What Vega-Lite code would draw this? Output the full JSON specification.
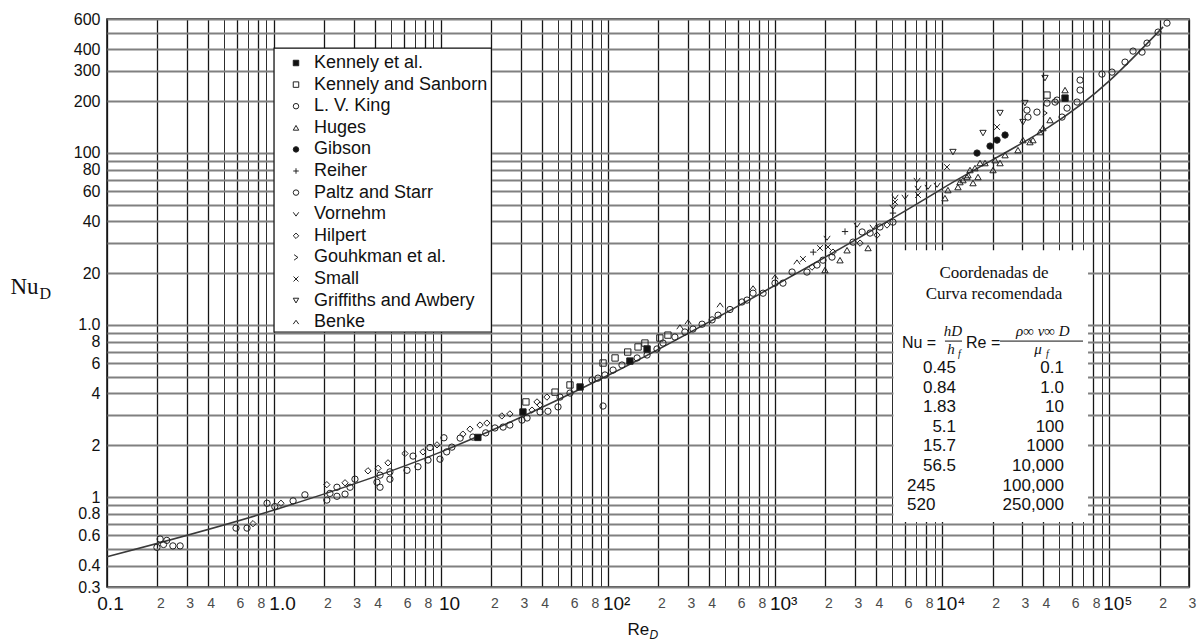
{
  "$schema": "https://vega.github.io/schema/vega-lite/v6.json",
  "width": 1082,
  "height": 568,
  "autosize": {"type": "none"},
  "padding": {"left": 107, "top": 19, "right": 10, "bottom": 54},
  "background": "white",
  "config": {"view": {"stroke": "#111", "strokeWidth": 1.5}, "font": "Liberation Sans"},
  "datasets": {
    "curve": [
      {"Re": 0.1, "Nu": 0.45}, {"Re": 1, "Nu": 0.84}, {"Re": 10, "Nu": 1.83}, {"Re": 100, "Nu": 5.1},
      {"Re": 1000, "Nu": 17}, {"Re": 10000, "Nu": 62}, {"Re": 100000, "Nu": 262}, {"Re": 210000, "Nu": 540}
    ],
    "pts": [
      {"Source": "L. V. King", "Re": 0.199, "Nu": 0.51},
      {"Source": "L. V. King", "Re": 0.208, "Nu": 0.57},
      {"Source": "Paltz and Starr", "Re": 0.218, "Nu": 0.53},
      {"Source": "L. V. King", "Re": 0.228, "Nu": 0.56},
      {"Source": "L. V. King", "Re": 0.248, "Nu": 0.52},
      {"Source": "Paltz and Starr", "Re": 0.274, "Nu": 0.52},
      {"Source": "L. V. King", "Re": 0.592, "Nu": 0.66},
      {"Source": "L. V. King", "Re": 0.689, "Nu": 0.66},
      {"Source": "Hilpert", "Re": 0.748, "Nu": 0.70},
      {"Source": "L. V. King", "Re": 0.908, "Nu": 0.92},
      {"Source": "L. V. King", "Re": 1.01, "Nu": 0.88},
      {"Source": "Hilpert", "Re": 1.10, "Nu": 0.92},
      {"Source": "L. V. King", "Re": 1.30, "Nu": 0.95},
      {"Source": "Paltz and Starr", "Re": 1.53, "Nu": 1.03},
      {"Source": "Hilpert", "Re": 2.07, "Nu": 1.18},
      {"Source": "L. V. King", "Re": 2.07, "Nu": 0.96},
      {"Source": "L. V. King", "Re": 2.16, "Nu": 1.05},
      {"Source": "L. V. King", "Re": 2.38, "Nu": 1.14},
      {"Source": "Paltz and Starr", "Re": 2.38, "Nu": 1.01},
      {"Source": "Hilpert", "Re": 2.66, "Nu": 1.21},
      {"Source": "L. V. King", "Re": 2.66, "Nu": 1.04},
      {"Source": "L. V. King", "Re": 2.85, "Nu": 1.14},
      {"Source": "L. V. King", "Re": 3.05, "Nu": 1.27},
      {"Source": "Hilpert", "Re": 3.65, "Nu": 1.42},
      {"Source": "L. V. King", "Re": 4.13, "Nu": 1.22},
      {"Source": "Hilpert", "Re": 4.2, "Nu": 1.47},
      {"Source": "L. V. King", "Re": 4.31, "Nu": 1.34},
      {"Source": "L. V. King", "Re": 4.31, "Nu": 1.14},
      {"Source": "Hilpert", "Re": 4.81, "Nu": 1.58},
      {"Source": "L. V. King", "Re": 4.94, "Nu": 1.40},
      {"Source": "Paltz and Starr", "Re": 4.94, "Nu": 1.27},
      {"Source": "Hilpert", "Re": 6.08, "Nu": 1.79},
      {"Source": "L. V. King", "Re": 6.25, "Nu": 1.43},
      {"Source": "L. V. King", "Re": 6.79, "Nu": 1.73},
      {"Source": "L. V. King", "Re": 7.27, "Nu": 1.50},
      {"Source": "Hilpert", "Re": 7.79, "Nu": 1.83},
      {"Source": "L. V. King", "Re": 8.35, "Nu": 1.64},
      {"Source": "L. V. King", "Re": 8.58, "Nu": 1.94},
      {"Source": "Hilpert", "Re": 9.45, "Nu": 2.01},
      {"Source": "L. V. King", "Re": 9.85, "Nu": 1.66},
      {"Source": "L. V. King", "Re": 10.4, "Nu": 2.21},
      {"Source": "Paltz and Starr", "Re": 10.8, "Nu": 1.83},
      {"Source": "L. V. King", "Re": 11.6, "Nu": 1.95},
      {"Source": "L. V. King", "Re": 13.0, "Nu": 2.20},
      {"Source": "Hilpert", "Re": 13.5, "Nu": 2.32},
      {"Source": "Hilpert", "Re": 14.9, "Nu": 2.48},
      {"Source": "L. V. King", "Re": 15.5, "Nu": 2.23},
      {"Source": "Kennely et al.", "Re": 16.6, "Nu": 2.22},
      {"Source": "Hilpert", "Re": 17.1, "Nu": 2.62},
      {"Source": "Hilpert", "Re": 18.8, "Nu": 2.69},
      {"Source": "L. V. King", "Re": 18.5, "Nu": 2.36},
      {"Source": "L. V. King", "Re": 21.0, "Nu": 2.52},
      {"Source": "Hilpert", "Re": 23.1, "Nu": 2.96},
      {"Source": "Hilpert", "Re": 25.8, "Nu": 3.04},
      {"Source": "L. V. King", "Re": 23.5, "Nu": 2.55},
      {"Source": "Paltz and Starr", "Re": 25.8, "Nu": 2.62},
      {"Source": "Kennely et al.", "Re": 30.9, "Nu": 3.12},
      {"Source": "Kennely and Sanborn", "Re": 32.2, "Nu": 3.57},
      {"Source": "L. V. King", "Re": 30.5, "Nu": 2.80},
      {"Source": "L. V. King", "Re": 32.7, "Nu": 2.88},
      {"Source": "Hilpert", "Re": 35.0, "Nu": 3.2},
      {"Source": "Hilpert", "Re": 37.5, "Nu": 3.57},
      {"Source": "Hilpert", "Re": 39.1, "Nu": 3.43},
      {"Source": "Hilpert", "Re": 43.0, "Nu": 3.81},
      {"Source": "L. V. King", "Re": 39.1, "Nu": 3.12},
      {"Source": "L. V. King", "Re": 43.6, "Nu": 3.15},
      {"Source": "L. V. King", "Re": 50.1, "Nu": 3.34},
      {"Source": "Kennely and Sanborn", "Re": 48.1, "Nu": 4.07},
      {"Source": "L. V. King", "Re": 51.5, "Nu": 3.81},
      {"Source": "Kennely and Sanborn", "Re": 59.1, "Nu": 4.48},
      {"Source": "L. V. King", "Re": 59.1, "Nu": 4.02},
      {"Source": "Kennely et al.", "Re": 67.9, "Nu": 4.36},
      {"Source": "L. V. King", "Re": 80.1, "Nu": 4.79},
      {"Source": "L. V. King", "Re": 86.9, "Nu": 4.91},
      {"Source": "Kennely and Sanborn", "Re": 93.2, "Nu": 6.01},
      {"Source": "L. V. King", "Re": 93.2, "Nu": 3.38},
      {"Source": "L. V. King", "Re": 95.7, "Nu": 5.12},
      {"Source": "L. V. King", "Re": 107, "Nu": 5.47},
      {"Source": "Kennely and Sanborn", "Re": 110, "Nu": 6.43},
      {"Source": "L. V. King", "Re": 121, "Nu": 5.85},
      {"Source": "Kennely and Sanborn", "Re": 131, "Nu": 6.96},
      {"Source": "Kennely et al.", "Re": 135, "Nu": 6.17},
      {"Source": "L. V. King", "Re": 149, "Nu": 6.43},
      {"Source": "Kennely and Sanborn", "Re": 151, "Nu": 7.45},
      {"Source": "Kennely and Sanborn", "Re": 166, "Nu": 7.85},
      {"Source": "L. V. King", "Re": 171, "Nu": 6.69},
      {"Source": "Kennely et al.", "Re": 171, "Nu": 7.25},
      {"Source": "L. V. King", "Re": 196, "Nu": 7.25},
      {"Source": "Kennely and Sanborn", "Re": 204, "Nu": 8.4},
      {"Source": "L. V. King", "Re": 213, "Nu": 7.85},
      {"Source": "Kennely and Sanborn", "Re": 228, "Nu": 8.73},
      {"Source": "L. V. King", "Re": 251, "Nu": 8.51},
      {"Source": "Benke", "Re": 269, "Nu": 9.73},
      {"Source": "L. V. King", "Re": 288, "Nu": 9.1},
      {"Source": "Benke", "Re": 301, "Nu": 10.4},
      {"Source": "L. V. King", "Re": 322, "Nu": 9.47},
      {"Source": "L. V. King", "Re": 365, "Nu": 10.1},
      {"Source": "L. V. King", "Re": 419, "Nu": 10.7},
      {"Source": "L. V. King", "Re": 455, "Nu": 11.4},
      {"Source": "Benke", "Re": 468, "Nu": 13.05},
      {"Source": "L. V. King", "Re": 536, "Nu": 12.3},
      {"Source": "L. V. King", "Re": 633, "Nu": 13.6},
      {"Source": "L. V. King", "Re": 678, "Nu": 13.95},
      {"Source": "Benke", "Re": 737, "Nu": 16.4},
      {"Source": "L. V. King", "Re": 737, "Nu": 15.3},
      {"Source": "L. V. King", "Re": 846, "Nu": 15.3},
      {"Source": "Benke", "Re": 997, "Nu": 19.0},
      {"Source": "L. V. King", "Re": 997, "Nu": 17.5},
      {"Source": "L. V. King", "Re": 1113, "Nu": 17.5},
      {"Source": "L. V. King", "Re": 1262, "Nu": 20.3},
      {"Source": "Benke", "Re": 1350, "Nu": 23.2},
      {"Source": "Small", "Re": 1466, "Nu": 24.2},
      {"Source": "L. V. King", "Re": 1549, "Nu": 20.3},
      {"Source": "Hilpert", "Re": 1660, "Nu": 21.7},
      {"Source": "Reiher", "Re": 1690, "Nu": 26.5},
      {"Source": "L. V. King", "Re": 1779, "Nu": 22.3},
      {"Source": "Small", "Re": 1854, "Nu": 28.0},
      {"Source": "L. V. King", "Re": 1932, "Nu": 23.8},
      {"Source": "Huges", "Re": 1986, "Nu": 20.85},
      {"Source": "Vornehm", "Re": 2042, "Nu": 32.0},
      {"Source": "Small", "Re": 2070, "Nu": 28.4},
      {"Source": "L. V. King", "Re": 2188, "Nu": 24.8},
      {"Source": "Hilpert", "Re": 2218, "Nu": 26.5},
      {"Source": "Huges", "Re": 2443, "Nu": 23.8},
      {"Source": "Reiher", "Re": 2618, "Nu": 34.9},
      {"Source": "Huges", "Re": 2692, "Nu": 27.2},
      {"Source": "L. V. King", "Re": 2924, "Nu": 30.3},
      {"Source": "Vornehm", "Re": 3091, "Nu": 38.1},
      {"Source": "Hilpert", "Re": 3222, "Nu": 29.9},
      {"Source": "L. V. King", "Re": 3313, "Nu": 34.7},
      {"Source": "Huges", "Re": 3597, "Nu": 28.0},
      {"Source": "L. V. King", "Re": 3698, "Nu": 34.2},
      {"Source": "Vornehm", "Re": 3855, "Nu": 37.1},
      {"Source": "Hilpert", "Re": 4067, "Nu": 33.3},
      {"Source": "L. V. King", "Re": 4238, "Nu": 37.1},
      {"Source": "Hilpert", "Re": 4669, "Nu": 38.1},
      {"Source": "L. V. King", "Re": 5070, "Nu": 39.6},
      {"Source": "Vornehm", "Re": 5213, "Nu": 55.4},
      {"Source": "Small", "Re": 5213, "Nu": 51.8},
      {"Source": "Vornehm", "Re": 5070, "Nu": 48.4},
      {"Source": "Reiher", "Re": 5070, "Nu": 44.7},
      {"Source": "Vornehm", "Re": 5985, "Nu": 55.4},
      {"Source": "Vornehm", "Re": 7063, "Nu": 69.5},
      {"Source": "Vornehm", "Re": 7161, "Nu": 62.5},
      {"Source": "Small", "Re": 7161, "Nu": 56.9},
      {"Source": "Vornehm", "Re": 8222, "Nu": 63.3},
      {"Source": "Vornehm", "Re": 9313, "Nu": 65.0},
      {"Source": "Huges", "Re": 10380, "Nu": 54.6},
      {"Source": "Small", "Re": 10670, "Nu": 82.7},
      {"Source": "Huges", "Re": 10820, "Nu": 60.8},
      {"Source": "Griffiths and Awbery", "Re": 11590, "Nu": 101.1},
      {"Source": "Huges", "Re": 12420, "Nu": 63.3},
      {"Source": "Huges", "Re": 12770, "Nu": 67.7},
      {"Source": "Huges", "Re": 13310, "Nu": 69.5},
      {"Source": "Huges", "Re": 14060, "Nu": 72.4},
      {"Source": "Huges", "Re": 14260, "Nu": 74.3},
      {"Source": "Huges", "Re": 14660, "Nu": 79.5},
      {"Source": "Huges", "Re": 15280, "Nu": 66.8},
      {"Source": "Huges", "Re": 15700, "Nu": 81.6},
      {"Source": "Huges", "Re": 16370, "Nu": 72.4},
      {"Source": "Huges", "Re": 16830, "Nu": 87.3},
      {"Source": "Huges", "Re": 18030, "Nu": 87.3},
      {"Source": "Gibson", "Re": 16150, "Nu": 99.8},
      {"Source": "Griffiths and Awbery", "Re": 17540, "Nu": 130.4},
      {"Source": "Gibson", "Re": 19320, "Nu": 109.6},
      {"Source": "Small", "Re": 21280, "Nu": 141.3},
      {"Source": "Gibson", "Re": 21280, "Nu": 118.7},
      {"Source": "Gibson", "Re": 23770, "Nu": 127.0},
      {"Source": "Huges", "Re": 20140, "Nu": 79.5},
      {"Source": "Huges", "Re": 20700, "Nu": 90.8},
      {"Source": "Huges", "Re": 22180, "Nu": 87.3},
      {"Source": "Huges", "Re": 23770, "Nu": 97.1},
      {"Source": "Griffiths and Awbery", "Re": 22180, "Nu": 170.4},
      {"Source": "Huges", "Re": 28400, "Nu": 103.8},
      {"Source": "Huges", "Re": 30420, "Nu": 118.7},
      {"Source": "Huges", "Re": 33500, "Nu": 115.6},
      {"Source": "Huges", "Re": 34920, "Nu": 118.7},
      {"Source": "Griffiths and Awbery", "Re": 30420, "Nu": 151.0},
      {"Source": "Griffiths and Awbery", "Re": 31270, "Nu": 194.7},
      {"Source": "L. V. King", "Re": 32150, "Nu": 177.3},
      {"Source": "L. V. King", "Re": 32600, "Nu": 161.5},
      {"Source": "L. V. King", "Re": 36900, "Nu": 172.6},
      {"Source": "Huges", "Re": 38460, "Nu": 132.1},
      {"Source": "Huges", "Re": 40090, "Nu": 139.4},
      {"Source": "Gouhkman et al.", "Re": 41210, "Nu": 170.4},
      {"Source": "L. V. King", "Re": 42370, "Nu": 194.7},
      {"Source": "Kennely and Sanborn", "Re": 42370, "Nu": 216.8},
      {"Source": "Griffiths and Awbery", "Re": 41210, "Nu": 272.1},
      {"Source": "Huges", "Re": 44160, "Nu": 155.2},
      {"Source": "L. V. King", "Re": 47320, "Nu": 197.4},
      {"Source": "L. V. King", "Re": 48650, "Nu": 202.7},
      {"Source": "Huges", "Re": 54330, "Nu": 231.8},
      {"Source": "Kennely et al.", "Re": 54330, "Nu": 208.2},
      {"Source": "L. V. King", "Re": 52130, "Nu": 161.5},
      {"Source": "L. V. King", "Re": 55850, "Nu": 182.1},
      {"Source": "L. V. King", "Re": 66840, "Nu": 264.9},
      {"Source": "L. V. King", "Re": 66840, "Nu": 231.8},
      {"Source": "L. V. King", "Re": 64120, "Nu": 197.4},
      {"Source": "L. V. King", "Re": 90410, "Nu": 287.1},
      {"Source": "L. V. King", "Re": 103800, "Nu": 294.8},
      {"Source": "L. V. King", "Re": 124200, "Nu": 337.0},
      {"Source": "L. V. King", "Re": 138700, "Nu": 390.5},
      {"Source": "L. V. King", "Re": 157000, "Nu": 385.3},
      {"Source": "L. V. King", "Re": 168200, "Nu": 434.6},
      {"Source": "L. V. King", "Re": 195900, "Nu": 503.5},
      {"Source": "L. V. King", "Re": 221500, "Nu": 568.0}
    ]
  },
  "layer": [
    {
      "data": {"values": [{}]},
      "mark": {"type": "rect", "fill": "white", "stroke": "#111", "strokeWidth": 1.2},
      "encoding": {
        "x": {"datum": 1, "type": "quantitative", "scale": {"type": "log", "domain": [0.1, 300000], "nice": false}, "axis": null},
        "x2": {"datum": 20},
        "y": {"datum": 9.1, "type": "quantitative", "scale": {"type": "log", "domain": [0.3, 600], "nice": false}, "axis": null},
        "y2": {"datum": 406}
      }
    },
    {
      "data": {"values": [{}]},
      "mark": {"type": "rect", "fill": "white", "strokeWidth": 0},
      "encoding": {
        "x": {"datum": 5100, "type": "quantitative", "scale": {"type": "log", "domain": [0.1, 300000], "nice": false}, "axis": null},
        "x2": {"datum": 74600},
        "y": {"datum": 0.716, "type": "quantitative", "scale": {"type": "log", "domain": [0.3, 600], "nice": false}, "axis": null},
        "y2": {"datum": 27.2}
      }
    },
    {
      "data": {"values": [{}]},
      "mark": {"type": "text", "font": "Liberation Serif", "fontSize": 17, "align": "center", "baseline": "alphabetic", "lineHeight": 21, "color": "#111"},
      "encoding": {
        "x": {"datum": 20400, "type": "quantitative", "scale": {"type": "log", "domain": [0.1, 300000], "nice": false}, "axis": null},
        "y": {"datum": 18.7, "type": "quantitative", "scale": {"type": "log", "domain": [0.3, 600], "nice": false}, "axis": null},
        "text": {"value": ["Coordenadas de", "Curva recomendada"]}
      }
    },
    {
      "data": {"values": [{}]},
      "mark": {"type": "text", "font": "Liberation Sans", "fontSize": 16, "align": "left", "baseline": "alphabetic", "color": "#111"},
      "encoding": {
        "x": {"datum": 5740, "type": "quantitative", "scale": {"type": "log", "domain": [0.1, 300000], "nice": false}, "axis": null},
        "y": {"datum": 7.34, "type": "quantitative", "scale": {"type": "log", "domain": [0.3, 600], "nice": false}, "axis": null},
        "text": {"value": "Nu ="}
      }
    },
    {
      "data": {"values": [{}]},
      "mark": {"type": "text", "font": "Liberation Sans", "fontSize": 16, "align": "left", "baseline": "alphabetic", "color": "#111"},
      "encoding": {
        "x": {"datum": 13870, "type": "quantitative", "scale": {"type": "log", "domain": [0.1, 300000], "nice": false}, "axis": null},
        "y": {"datum": 7.34, "type": "quantitative", "scale": {"type": "log", "domain": [0.3, 600], "nice": false}, "axis": null},
        "text": {"value": "Re ="}
      }
    },
    {
      "data": {"values": [{}]},
      "mark": {"type": "text", "font": "Liberation Serif", "fontSize": 15, "fontStyle": "italic", "align": "center", "baseline": "alphabetic", "color": "#111"},
      "encoding": {
        "x": {"datum": 11590, "type": "quantitative", "scale": {"type": "log", "domain": [0.1, 300000], "nice": false}, "axis": null},
        "y": {"datum": 8.62, "type": "quantitative", "scale": {"type": "log", "domain": [0.3, 600], "nice": false}, "axis": null},
        "text": {"value": "hD"}
      }
    },
    {
      "data": {"values": [{}]},
      "mark": {"type": "text", "font": "Liberation Serif", "fontSize": 15, "fontStyle": "italic", "align": "center", "baseline": "alphabetic", "color": "#111"},
      "encoding": {
        "x": {"datum": 11280, "type": "quantitative", "scale": {"type": "log", "domain": [0.1, 300000], "nice": false}, "axis": null},
        "y": {"datum": 6.78, "type": "quantitative", "scale": {"type": "log", "domain": [0.3, 600], "nice": false}, "axis": null},
        "text": {"value": "h"}
      }
    },
    {
      "data": {"values": [{}]},
      "mark": {"type": "text", "font": "Liberation Serif", "fontSize": 10, "fontStyle": "italic", "align": "left", "baseline": "alphabetic", "color": "#111"},
      "encoding": {
        "x": {"datum": 12420, "type": "quantitative", "scale": {"type": "log", "domain": [0.1, 300000], "nice": false}, "axis": null},
        "y": {"datum": 6.51, "type": "quantitative", "scale": {"type": "log", "domain": [0.3, 600], "nice": false}, "axis": null},
        "text": {"value": "f"}
      }
    },
    {
      "data": {"values": [{}]},
      "mark": {"type": "text", "font": "Liberation Serif", "fontSize": 15, "fontStyle": "italic", "align": "center", "baseline": "alphabetic", "color": "#111"},
      "encoding": {
        "x": {"datum": 40000, "type": "quantitative", "scale": {"type": "log", "domain": [0.1, 300000], "nice": false}, "axis": null},
        "y": {"datum": 8.62, "type": "quantitative", "scale": {"type": "log", "domain": [0.3, 600], "nice": false}, "axis": null},
        "text": {"value": "ρ∞ v∞ D"}
      }
    },
    {
      "data": {"values": [{}]},
      "mark": {"type": "text", "font": "Liberation Serif", "fontSize": 15, "fontStyle": "italic", "align": "center", "baseline": "alphabetic", "color": "#111"},
      "encoding": {
        "x": {"datum": 37400, "type": "quantitative", "scale": {"type": "log", "domain": [0.1, 300000], "nice": false}, "axis": null},
        "y": {"datum": 6.78, "type": "quantitative", "scale": {"type": "log", "domain": [0.3, 600], "nice": false}, "axis": null},
        "text": {"value": "μ"}
      }
    },
    {
      "data": {"values": [{}]},
      "mark": {"type": "text", "font": "Liberation Serif", "fontSize": 10, "fontStyle": "italic", "align": "left", "baseline": "alphabetic", "color": "#111"},
      "encoding": {
        "x": {"datum": 41800, "type": "quantitative", "scale": {"type": "log", "domain": [0.1, 300000], "nice": false}, "axis": null},
        "y": {"datum": 6.51, "type": "quantitative", "scale": {"type": "log", "domain": [0.3, 600], "nice": false}, "axis": null},
        "text": {"value": "f"}
      }
    },
    {
      "data": {"values": [{}]},
      "mark": {"type": "rule", "stroke": "#111", "strokeWidth": 1},
      "encoding": {
        "x": {"datum": 10380, "type": "quantitative", "scale": {"type": "log", "domain": [0.1, 300000], "nice": false}, "axis": null},
        "x2": {"datum": 13130},
        "y": {"datum": 8.06, "type": "quantitative", "scale": {"type": "log", "domain": [0.3, 600], "nice": false}, "axis": null}
      }
    },
    {
      "data": {"values": [{}]},
      "mark": {"type": "rule", "stroke": "#111", "strokeWidth": 1},
      "encoding": {
        "x": {"datum": 22180, "type": "quantitative", "scale": {"type": "log", "domain": [0.1, 300000], "nice": false}, "axis": null},
        "x2": {"datum": 69600},
        "y": {"datum": 8.06, "type": "quantitative", "scale": {"type": "log", "domain": [0.3, 600], "nice": false}, "axis": null}
      }
    },
    {
      "data": {"values": [{}]},
      "mark": {"type": "text", "font": "Liberation Sans", "fontSize": 17, "align": "right", "baseline": "alphabetic", "lineHeight": 19.6, "color": "#111"},
      "encoding": {
        "x": {"datum": 12090, "type": "quantitative", "scale": {"type": "log", "domain": [0.1, 300000], "nice": false}, "axis": null},
        "y": {"datum": 5.26, "type": "quantitative", "scale": {"type": "log", "domain": [0.3, 600], "nice": false}, "axis": null},
        "text": {"value": ["0.45", "0.84", "1.83", "5.1", "15.7", "56.5"]}
      }
    },
    {
      "data": {"values": [{}]},
      "mark": {"type": "text", "font": "Liberation Sans", "fontSize": 17, "align": "left", "baseline": "alphabetic", "lineHeight": 19.6, "color": "#111"},
      "encoding": {
        "x": {"datum": 6150, "type": "quantitative", "scale": {"type": "log", "domain": [0.1, 300000], "nice": false}, "axis": null},
        "y": {"datum": 1.09, "type": "quantitative", "scale": {"type": "log", "domain": [0.3, 600], "nice": false}, "axis": null},
        "text": {"value": ["245", "520"]}
      }
    },
    {
      "data": {"values": [{}]},
      "mark": {"type": "text", "font": "Liberation Sans", "fontSize": 17, "align": "right", "baseline": "alphabetic", "lineHeight": 19.6, "color": "#111"},
      "encoding": {
        "x": {"datum": 53560, "type": "quantitative", "scale": {"type": "log", "domain": [0.1, 300000], "nice": false}, "axis": null},
        "y": {"datum": 5.26, "type": "quantitative", "scale": {"type": "log", "domain": [0.3, 600], "nice": false}, "axis": null},
        "text": {"value": ["0.1", "1.0", "10", "100", "1000", "10,000", "100,000", "250,000"]}
      }
    },
    {
      "data": {"name": "curve"},
      "mark": {"type": "line", "interpolate": "monotone", "stroke": "#3a3a3a", "strokeWidth": 1.6},
      "encoding": {
        "x": {"field": "Re", "type": "quantitative", "scale": {"type": "log", "domain": [0.1, 300000], "nice": false},
          "axis": {"orient": "bottom",
            "values": [0.1, 0.2, 0.3, 0.4, 0.5, 0.6, 0.7, 0.8, 0.9, 1, 2, 3, 4, 5, 6, 7, 8, 9, 10, 20, 30, 40, 50, 60, 70, 80, 90, 100, 200, 300, 400, 500, 600, 700, 800, 900, 1000, 2000, 3000, 4000, 5000, 6000, 7000, 8000, 9000, 10000, 20000, 30000, 40000, 50000, 60000, 70000, 80000, 90000, 100000, 200000, 300000],
            "grid": true, "gridColor": "#151515", "gridOpacity": 1,
            "gridWidth": {"condition": {"test": "indexof([0.5,0.7,0.9,5,7,9,50,70,90,500,700,900,5000,7000,9000,50000,70000,90000],datum.value)>=0", "value": 0.9}, "value": 1.3},
            "labels": false, "ticks": false, "domain": false,
            "title": "D", "titleFont": "Liberation Sans", "titleFontSize": 12, "titleFontStyle": "italic", "titleFontWeight": "normal", "titleAlign": "left", "titleBaseline": "alphabetic", "titleX": 542, "titleY": 51, "titleColor": "#111"}},
        "y": {"field": "Nu", "type": "quantitative", "scale": {"type": "log", "domain": [0.3, 600], "nice": false},
          "axis": {"orient": "left",
            "values": [0.3, 0.4, 0.5, 0.6, 0.7, 0.8, 0.9, 1, 2, 3, 4, 5, 6, 7, 8, 9, 10, 20, 30, 40, 50, 60, 70, 80, 90, 100, 200, 300, 400, 500, 600],
            "grid": true, "gridColor": "#808080", "gridWidth": 1.8, "gridOpacity": 1,
            "labels": false, "ticks": false, "domain": false,
            "title": "D", "titleFont": "Liberation Serif", "titleFontSize": 16, "titleFontWeight": "normal", "titleAngle": 0, "titleAlign": "left", "titleBaseline": "alphabetic", "titleX": -68, "titleY": 279, "titleColor": "#111"}}
      }
    },
    {
      "data": {"name": "pts"},
      "mark": {"type": "point", "size": 40, "strokeWidth": 1, "opacity": 1},
      "encoding": {
        "x": {"field": "Re", "type": "quantitative", "scale": {"type": "log", "domain": [0.1, 300000], "nice": false},
          "axis": {
            "orient": "bottom",
            "values": [0.1, 0.2, 0.3, 0.4, 0.6, 0.8, 1, 2, 3, 4, 6, 8, 10, 20, 30, 40, 60, 80, 100, 200, 300, 400, 600, 800, 1000, 2000, 3000, 4000, 6000, 8000, 10000, 20000, 30000, 40000, 60000, 80000, 100000, 200000, 300000],
            "grid": false, "domain": false, "ticks": false, "tickSize": 0,
            "labelExpr": "datum.value==0.1?'0.1':datum.value==1?'1.0':datum.value==10?'10':datum.value==100?'10²':datum.value==1000?'10³':datum.value==10000?'10⁴':datum.value==100000?'10⁵':''+round(datum.value/pow(10,floor(log(datum.value)/LN10+0.000001)))",
            "labelFont": "Liberation Sans",
            "labelFontSize": {"condition": {"test": "indexof([0.1,1,10,100,1000,10000,100000],datum.value)>=0", "value": 19}, "value": 14},
            "labelColor": {"condition": {"test": "indexof([0.1,1,10,100,1000,10000,100000],datum.value)>=0", "value": "#111"}, "value": "#4a4a4a"},
            "labelOffset": {"condition": {"test": "indexof([1,10,100,1000,10000,100000],datum.value)>=0", "value": 8}, "value": 3},
            "labelBaseline": "middle", "labelPadding": 16, "labelFlush": false, "labelOverlap": false, "labelBound": false,
            "title": "Re", "titleFont": "Liberation Sans", "titleFontSize": 17, "titleFontWeight": "normal", "titleAlign": "left", "titleBaseline": "alphabetic", "titleX": 520, "titleY": 47, "titleColor": "#111"
          }},
        "y": {"field": "Nu", "type": "quantitative", "scale": {"type": "log", "domain": [0.3, 600], "nice": false},
          "axis": {
            "orient": "left",
            "values": [0.3, 0.4, 0.6, 0.8, 1, 2, 4, 6, 8, 10, 20, 40, 60, 80, 100, 200, 300, 400, 600],
            "grid": false, "domain": false, "ticks": false, "tickSize": 0,
            "labelExpr": "datum.value==10?'1.0':''+datum.value",
            "labelFont": "Liberation Sans", "labelFontSize": 16, "labelColor": "#111", "labelPadding": 7,
            "labelFlush": false, "labelOverlap": false, "labelBound": false,
            "title": "Nu", "titleFont": "Liberation Serif", "titleFontSize": 23, "titleFontWeight": "normal", "titleAngle": 0, "titleAlign": "left", "titleBaseline": "alphabetic", "titleX": -97, "titleY": 274, "titleColor": "#111"
          }},
        "shape": {"field": "Source", "type": "nominal",
          "scale": {
            "domain": ["Kennely et al.", "Kennely and Sanborn", "L. V. King", "Huges", "Gibson", "Reiher", "Paltz and Starr", "Vornehm", "Hilpert", "Gouhkman et al.", "Small", "Griffiths and Awbery", "Benke"],
            "range": ["square", "square", "circle", "triangle-up", "circle", "M-1,0H1M0,-1V1", "circle", "M-1,-0.7L0,0.7L1,-0.7", "diamond", "M-0.7,-1L0.7,0L-0.7,1", "M-0.9,-0.9L0.9,0.9M-0.9,0.9L0.9,-0.9", "triangle-down", "M-1,0.7L0,-0.7L1,0.7"]
          },
          "legend": {"title": null, "orient": "none", "legendX": 180, "legendY": 35, "labelFontSize": 18, "labelFont": "Liberation Sans", "labelColor": "#111", "symbolSize": 30, "symbolStrokeWidth": 1, "rowPadding": 3.6, "labelOffset": 9, "padding": 0, "direction": "vertical", "labelLimit": 400}
        },
        "fill": {"field": "Source", "type": "nominal",
          "scale": {
            "domain": ["Kennely et al.", "Kennely and Sanborn", "L. V. King", "Huges", "Gibson", "Reiher", "Paltz and Starr", "Vornehm", "Hilpert", "Gouhkman et al.", "Small", "Griffiths and Awbery", "Benke"],
            "range": ["#111", "transparent", "transparent", "transparent", "#111", "transparent", "transparent", "transparent", "transparent", "transparent", "transparent", "transparent", "transparent"]
          },
          "legend": {"title": null, "orient": "none", "legendX": 180, "legendY": 35, "labelFontSize": 18, "labelFont": "Liberation Sans", "labelColor": "#111", "symbolSize": 30, "symbolStrokeWidth": 1, "rowPadding": 3.6, "labelOffset": 9, "padding": 0, "direction": "vertical", "labelLimit": 400}
        },
        "stroke": {"field": "Source", "type": "nominal",
          "scale": {
            "domain": ["Kennely et al.", "Kennely and Sanborn", "L. V. King", "Huges", "Gibson", "Reiher", "Paltz and Starr", "Vornehm", "Hilpert", "Gouhkman et al.", "Small", "Griffiths and Awbery", "Benke"],
            "range": ["#222", "#222", "#222", "#222", "#222", "#222", "#222", "#222", "#222", "#222", "#222", "#222", "#222"]
          },
          "legend": {"title": null, "orient": "none", "legendX": 180, "legendY": 35, "labelFontSize": 18, "labelFont": "Liberation Sans", "labelColor": "#111", "symbolSize": 30, "symbolStrokeWidth": 1, "rowPadding": 3.6, "labelOffset": 9, "padding": 0, "direction": "vertical", "labelLimit": 400}
        }
      }
    }
  ],
  "resolve": {"axis": {"x": "independent", "y": "independent"}}
}
